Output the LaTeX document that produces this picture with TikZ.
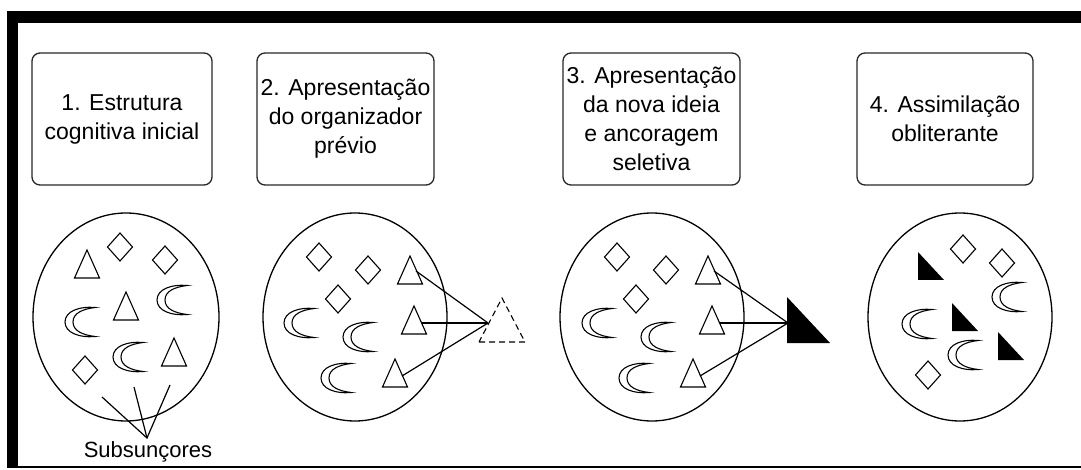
\documentclass[tikz,border=0pt]{standalone}
\usepackage{fontspec}
\setmainfont{Liberation Sans}
\usetikzlibrary{shapes.geometric}
\tikzset{
  stage/.style={draw=black!85, line width=1.3pt, rounded corners=8pt,
    font=\fontsize{23}{29}\selectfont, align=center, inner sep=0pt,
    minimum height=132pt},
  sphere/.style={draw, ellipse, line width=1.3pt, inner sep=0pt,
    minimum width=184pt, minimum height=208pt},
  shp/.style={draw, line width=1.1pt},
  link/.style={draw, line width=1.2pt},
  tri/.pic={\draw[shp] (-12.5,14) -- (12.5,14) -- (0,-14) -- cycle;},
  diam/.pic={\draw[shp] (0,-14) -- (12.5,0) -- (0,14) -- (-12.5,0) -- cycle;},
  cres/.pic={\draw[shp] (14,-14.5) .. controls (-1,-16) and (-16,-11) .. (-16,0)
     .. controls (-16,11) and (-1,16) .. (14,14.5)
     .. controls (2,13) and (-8,9) .. (-8,0)
     .. controls (-8,-9) and (2,-13) .. (14,-14.5) -- cycle;},
  ftri/.pic={\fill (0,-14) -- (0,14) -- (26,14) -- cycle;},
}
\begin{document}
\begin{tikzpicture}[x=1pt,y=-1pt]
\useasboundingbox (0,0) rectangle (1081,470);
% frame
\fill (7,11) rectangle (1081,23);
\fill (7,11) rectangle (18,468);
\draw[line width=2pt] (7,467) -- (1081,467);

% stage boxes
\node[stage, minimum width=180pt] (b1) at (122,119) {1. Estrutura\\cognitiva inicial};
\node[stage, minimum width=177pt] (b2) at (345.5,119) {2. Apresentação\\do organizador\\prévio};
\node[stage, minimum width=177pt] (b3) at (651.5,119) {3. Apresentação\\da nova ideia\\e ancoragem\\seletiva};
\node[stage, minimum width=176pt] (b4) at (945,119) {4. Assimilação\\obliterante};

% circles
\node[sphere, minimum width=186pt] (c1) at (126,317) {};
\node[sphere] (c2) at (355,317) {};
\node[sphere] (c3) at (652,317) {};
\node[sphere] (c4) at (960,317) {};

% circle 1
\pic at (87,264) {tri};
\pic at (120,247) {diam};
\pic at (165,260) {diam};
\pic at (81,322) {cres};
\pic at (126,306) {tri};
\pic at (173,300) {cres};
\pic at (85,370) {diam};
\pic at (129,357) {cres};
\pic at (174,352) {tri};
\coordinate (sv) at (147,438);
\coordinate (s1) at (102,397);
\coordinate (s2) at (134,387);
\coordinate (s3) at (170,385);
\draw[link] (s1) -- (sv) -- (s3);
\draw[link] (s2) -- (sv);
\node[font=\fontsize{22}{26}\selectfont, inner sep=0pt] (sub) at (148,452) {Subsunçores};

% circle 2
\pic at (319,257) {diam};
\pic at (368,270) {diam};
\pic at (410,270) {tri};
\pic at (338,299) {diam};
\pic at (300,323) {cres};
\pic at (414,320) {tri};
\pic at (359,337) {cres};
\pic at (337,378) {cres};
\pic at (395,373) {tri};
\coordinate (p1) at (416,271);
\coordinate (p2) at (422,323);
\coordinate (p3) at (402,376);
\coordinate (pv) at (488,323);
\draw[shp, dashed, dash pattern=on 6pt off 4pt] (479,342) -- (525,342) -- (502,298) -- cycle;
\draw[link] (p1) -- (pv);
\draw[link] (p2) -- (pv);
\draw[link] (p3) -- (pv);

% circle 3
\pic at (617,257) {diam};
\pic at (666,270) {diam};
\pic at (708,270) {tri};
\pic at (636,299) {diam};
\pic at (598,323) {cres};
\pic at (712,320) {tri};
\pic at (657,337) {cres};
\pic at (635,378) {cres};
\pic at (693,373) {tri};
\coordinate (q1) at (714,271);
\coordinate (q2) at (720,323);
\coordinate (q3) at (700,376);
\coordinate (qv) at (788,323);
\fill (787,297) -- (787,343) -- (830,343) -- cycle;
\draw[link] (q1) -- (qv);
\draw[link] (q2) -- (qv);
\draw[link] (q3) -- (qv);

% circle 4
\pic at (918,266) {ftri};
\pic at (963,249) {diam};
\pic at (1002,263) {diam};
\pic at (1008,297) {cres};
\pic at (918,324) {cres};
\pic at (952,317) {ftri};
\pic at (964,355) {cres};
\pic at (998,346) {ftri};
\pic at (928,375) {diam};
\end{tikzpicture}
\end{document}
